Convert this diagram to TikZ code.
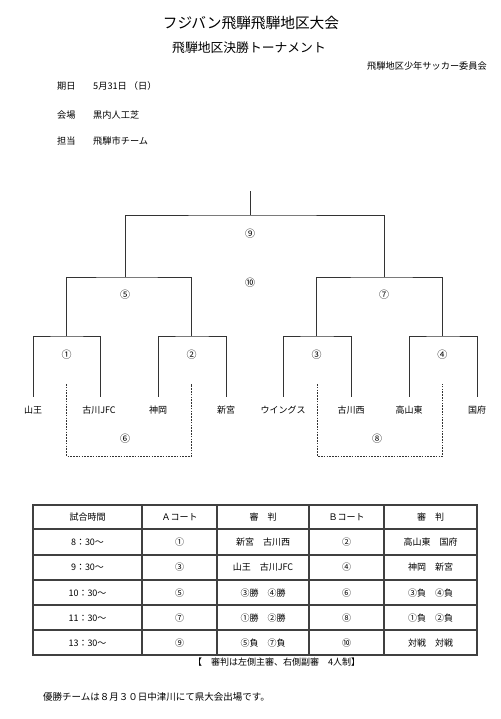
\documentclass[tikz,border=0pt]{standalone}
\usepackage{fontspec}
\newfontfamily\jpfont{Noto Sans CJK JP}
\usepackage{tikz}
\usetikzlibrary{positioning, calc}
\tikzset{
  maintitle/.style={font=\jpfont\fontsize{14.7}{16}\selectfont},
  subtitle/.style={font=\jpfont\fontsize{12.8}{14}\selectfont},
  small/.style={font=\jpfont\fontsize{9.2}{11}\selectfont},
  team/.style={font=\jpfont\fontsize{9}{11}\selectfont, minimum height=26pt},
  matchno/.style={font=\jpfont\fontsize{10}{11}\selectfont},
  cell/.style={font=\jpfont\fontsize{9}{11}\selectfont},
  bracket/.style={draw=black!80, line width=0.9pt},
  loser/.style={draw=black!80, line width=0.7pt, dash pattern=on 1.6pt off 1.2pt},
  grid/.style={draw=black!75, line width=1.1pt}
}

\begin{document}
\begin{tikzpicture}[
        x=1pt, y=-1pt,
        every node/.style={inner sep=0pt, font=\jpfont\fontsize{9}{11}\selectfont}
    ]
        \useasboundingbox (0,0) rectangle (500,719);

        % header
        \node (title) [maintitle] at (251,23) {フジバン飛騨飛騨地区大会};
        \node (sub) [subtitle] at (249,48) {飛騨地区決勝トーナメント};
        \node (org) [small, anchor=east] at (487,66) {飛騨地区少年サッカー委員会};
        \node (k1) [small, anchor=west] at (57,86) {期日};
        \node (k2) [small, anchor=west] at (57,115) {会場};
        \node (k3) [small, anchor=west] at (57,141) {担当};
        \node (v1) [small, anchor=west] at (93,86) {5月31日 （日）};
        \node (v2) [small, anchor=west] at (93,115) {黒内人工芝};
        \node (v3) [small, anchor=west] at (93,141) {飛騨市チーム};

        % teams
        \node (t1) [team] at (33,410) {山王};
        \node (t2) [team] at (99,410) {古川JFC};
        \node (t3) [team] at (158,410) {神岡};
        \node (t4) [team] at (226,410) {新宮};
        \node (t5) [team] at (283,410) {ウイングス};
        \node (t6) [team] at (351,410) {古川西};
        \node (t7) [team] at (409,410) {高山東};
        \node (t8) [team] at (477,410) {国府};

        % junctions
        \coordinate (j1) at (66.7,336);
        \coordinate (j2) at (191.7,336);
        \coordinate (j3) at (316.7,336);
        \coordinate (j4) at (442.7,336);
        \coordinate (j5) at (125,277);
        \coordinate (j7) at (384,277);
        \coordinate (j9) at (250,215);

        \draw [bracket] (t1.north -| 33,0) |- (j1) -| (t2.north -| 100,0);
        \draw [bracket] (t3.north) |- (j2) -| (t4.north);
        \draw [bracket] (t5.north) |- (j3) -| (t6.north);
        \draw [bracket] (t7.north) |- (j4) -| (t8.north);
        \draw [bracket] (j1) |- (j5) -| (j2);
        \draw [bracket] (j3) |- (j7) -| (j4);
        \draw [bracket] (j5) |- (j9) -| (j7);
        \draw [bracket] (j9) -- ++(0,-24);

        % losers
        \draw [loser] (66.7,384) -- ++(0,72) -| (191.7,384);
        \draw [loser] (317.3,384) -- ++(0,72) -| (442.7,384);

        % match numbers
        \node (n1) [matchno] at (66.7,355) {①};
        \node (n2) [matchno] at (191.7,355) {②};
        \node (n3) [matchno] at (316.7,355) {③};
        \node (n4) [matchno] at (442.3,355) {④};
        \node (n5) [matchno] at (125,295) {⑤};
        \node (n6) [matchno] at (125,439) {⑥};
        \node (n7) [matchno] at (384,295) {⑦};
        \node (n8) [matchno] at (377,439) {⑧};
        \node (n9) [matchno] at (250,234) {⑨};
        \node (n10) [matchno] at (250,283) {⑩};

        % schedule table
        \draw [grid] (33,505) rectangle (477,655);
        \foreach \y in {529,555,580,605,630} \draw [grid] (33,\y) -- (477,\y);
        \foreach \x in {142,217,309,384} \draw [grid] (\x,505) -- (\x,655);
        \foreach \y/\tm/\a/\ra/\b/\rb [count=\i] in {
            517/試合時間/Ａコート/審　判/Ｂコート/審　判,
            542/8：30～/①/新宮　古川西/②/高山東　国府,
            567/9：30～/③/山王　古川JFC/④/神岡　新宮,
            593/10：30～/⑤/③勝　④勝/⑥/③負　④負,
            618/11：30～/⑦/①勝　②勝/⑧/①負　②負,
            643/13：30～/⑨/⑤負　⑦負/⑩/対戦　対戦}{
            \node (tm\i) [cell] at (87.5,\y) {\tm};
            \node (a\i) [cell] at (179.5,\y) {\a};
            \node (ra\i) [cell] at (263,\y) {\ra};
            \node (b\i) [cell] at (346.5,\y) {\b};
            \node (rb\i) [cell] at (430.5,\y) {\rb};
        }
        \node (note) [cell, anchor=west] at (193,662) {【　審判は左側主審、右側副審　4人制】};
        \node (foot) [cell, anchor=west, font=\jpfont\fontsize{9.5}{11}\selectfont] at (43,697) {優勝チームは８月３０日中津川にて県大会出場です。};
    \end{tikzpicture}
\end{document}
